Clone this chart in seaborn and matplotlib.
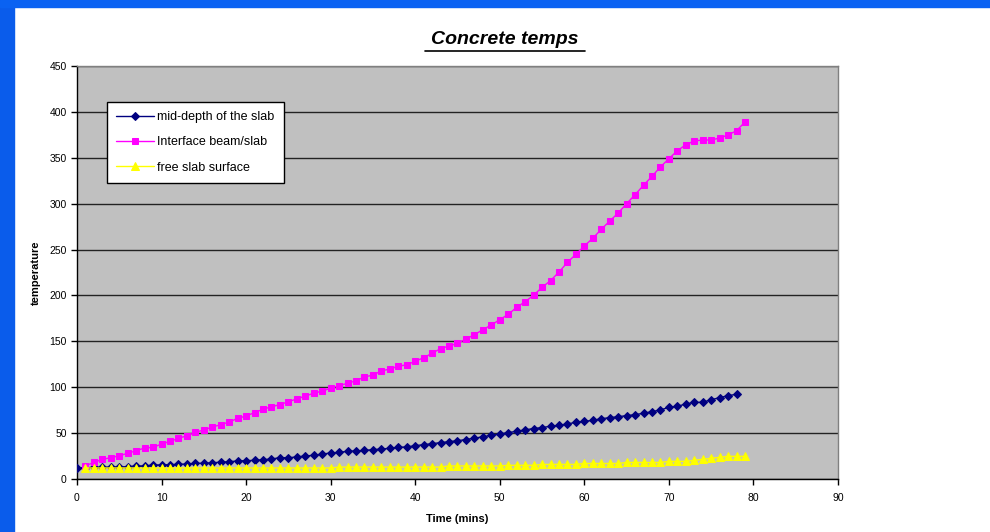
import numpy as np
import pandas as pd
import matplotlib
matplotlib.use("Agg")
import matplotlib.pyplot as plt
import seaborn as sns

# ---- data ----
mid_time = list(range(0, 79))
mid_depth = [12.0, 12.3, 12.6, 12.8, 13.0, 13.2, 13.4, 14.2, 14.2, 15.3,
             15.3, 15.6, 16.0, 16.3, 17.1, 17.1, 17.8, 18.2, 18.9, 19.6,
             20.0, 20.3, 21.0, 21.8, 23.2, 23.2, 24.0, 25.1, 25.8, 27.2,
             28.3, 29.0, 30.2, 30.5, 31.2, 31.9, 32.7, 33.4, 34.5, 34.9,
             36.3, 37.4, 38.5, 39.6, 40.7, 41.7, 43.0, 44.5, 46.0, 47.5,
             49.0, 50.5, 52.0, 53.5, 55.0, 56.0, 57.5, 58.5, 60.0, 61.7,
             62.8, 63.9, 65.7, 66.8, 67.9, 69.0, 70.1, 71.6, 73.4, 75.2,
             78.1, 79.2, 81.7, 83.5, 83.5, 86.4, 88.6, 90.8, 92.3]

if_time = list(range(1, 80))
interface = [14.5, 18.0, 21.4, 23.2, 25.4, 28.0, 30.9, 33.8, 34.5, 38.1,
             41.0, 44.3, 47.2, 50.9, 53.4, 56.7, 59.2, 62.1, 66.1, 68.6,
             72.4, 75.9, 78.8, 81.0, 84.3, 87.2, 90.4, 93.4, 95.9, 98.8,
             101.7, 104.3, 107.1, 111.1, 113.3, 117.7, 119.9, 122.8, 124.5, 128.2,
             132.2, 137.0, 142.0, 144.9, 147.8, 152.5, 157.2, 162.7, 167.8, 173.6,
             179.4, 187.1, 193.2, 200.2, 208.9, 216.1, 225.5, 236.1, 244.8, 253.9,
             262.3, 272.0, 281.1, 289.8, 300.0, 309.8, 320.0, 329.8, 340.0, 349.0,
             357.7, 364.2, 368.3, 369.4, 369.4, 371.5, 374.8, 379.5, 389.0]

free_time = list(range(1, 80))
free_surface = [12.0] * 30 + [13.0] * 13 + [14.2] * 7 + \
    [14.9, 14.9, 14.9, 14.9, 15.9, 15.9, 15.9, 15.9, 15.9,
     16.9, 16.9, 16.9, 16.9, 16.9, 18.0, 18.0, 18.0, 18.0, 18.0,
     19.2, 19.2, 19.2, 20.3, 21.4, 22.5, 23.6, 24.7, 24.7, 24.7]

labels = ["mid-depth of the slab", "Interface beam/slab", "free slab surface"]
x_ticks = list(range(0, 91, 10))
y_ticks = list(range(0, 451, 50))

# ---- figure ----
sns.set_theme(style="white")
plt.rcParams['font.family'] = ['Liberation Sans', 'DejaVu Sans']
plt.rcParams['text.color'] = 'black'
plt.rcParams['axes.labelcolor'] = 'black'

fig = plt.figure(figsize=(9.9, 5.32), dpi=100)
fig.patch.set_facecolor("white")

# blue slide border (left and top)
fig.patches.append(matplotlib.patches.Rectangle((0, 0), 14 / 990, 1, transform=fig.transFigure,
                                                 color="#0A5CEB", zorder=0))
fig.patches.append(matplotlib.patches.Rectangle((0, 1 - 7 / 532), 1, 7 / 532, transform=fig.transFigure,
                                                 color="#0A62F2", zorder=0))

ax = fig.add_axes([77 / 990, 1 - 479 / 532, (838 - 77) / 990, (479 - 66) / 532])
ax.set_facecolor("#C0C0C0")

df_mid = pd.DataFrame({"t": mid_time, "v": mid_depth})
df_if = pd.DataFrame({"t": if_time, "v": interface})
df_free = pd.DataFrame({"t": free_time, "v": free_surface})

sns.lineplot(data=df_mid, x="t", y="v", ax=ax, color="#000080", marker="D", markersize=4.5,
             markeredgecolor="#000080", linewidth=1, label=labels[0], zorder=3)
sns.lineplot(data=df_if, x="t", y="v", ax=ax, color="#FF00FF", marker="s", markersize=5,
             markeredgecolor="#FF00FF", linewidth=1, label=labels[1], zorder=3)
sns.lineplot(data=df_free, x="t", y="v", ax=ax, color="#FFFF00", marker="^", markersize=6,
             markeredgecolor="#FFFF00", linewidth=1, label=labels[2], zorder=3)

ax.set_xlim(0, 90)
ax.set_ylim(0, 450)
ax.set_xticks(x_ticks)
ax.set_yticks(y_ticks)
ax.yaxis.grid(True, color="#222222", linewidth=1)
ax.xaxis.grid(False)
ax.set_axisbelow(True)

for s in ["left", "bottom"]:
    ax.spines[s].set_color("black")
    ax.spines[s].set_linewidth(1)
for s in ["top", "right"]:
    ax.spines[s].set_color("#808080")
    ax.spines[s].set_linewidth(1)

ax.tick_params(axis="both", which="major", direction="out", length=4, width=1,
               color="black", labelsize=7.5, labelcolor="black", bottom=True, left=True)
ax.tick_params(axis="x", pad=6)

ax.set_xlabel("Time (mins)", fontsize=8, fontweight="bold", labelpad=8)
ax.set_ylabel("temperature", fontsize=8, fontweight="bold", labelpad=6)

fig.text(505 / 990, 1 - 40 / 532, "Concrete temps", ha="center", va="center",
         fontsize=14, fontweight="bold", fontstyle="italic", color="black")
# underline the title
fig.add_artist(matplotlib.lines.Line2D([425 / 990, 585 / 990], [1 - 51 / 532, 1 - 51 / 532],
                                       color="black", linewidth=1.2))

leg = ax.legend(loc="upper left", bbox_to_anchor=(0.039, 0.913), frameon=True, fancybox=False,
                fontsize=9, handlelength=3, borderpad=0.75, labelspacing=1.05,
                handletextpad=0.3, borderaxespad=0)
leg.get_frame().set_edgecolor("black")
leg.get_frame().set_linewidth(1)
leg.get_frame().set_facecolor("white")
leg.get_frame().set_alpha(1)

fig.savefig("out.png", dpi=100)
